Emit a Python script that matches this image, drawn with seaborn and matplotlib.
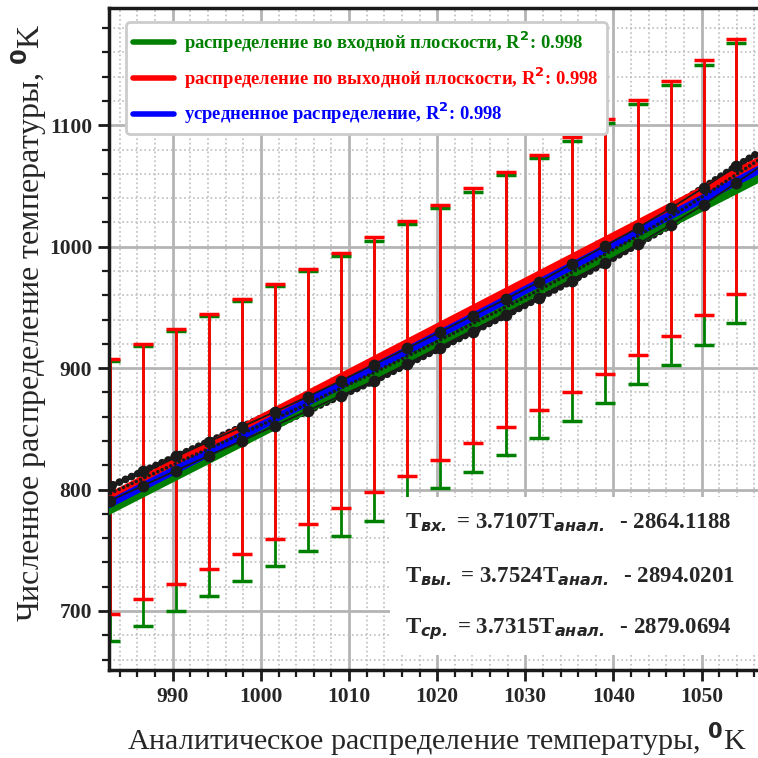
import seaborn as sns
import matplotlib.pyplot as plt
import matplotlib.patches as mpatches
from matplotlib.lines import Line2D
from matplotlib.ticker import MultipleLocator

# analytic temperature at the 20 sections, K
t_anal = [982.90, 986.64, 990.38, 994.12, 997.86, 1001.60, 1005.34, 1009.08, 1012.82, 1016.56,
          1020.30, 1024.04, 1027.78, 1031.52, 1035.26, 1039.00, 1042.74, 1046.48, 1050.22, 1053.96]
# numerical mean temperature, inlet plane
t_in = [790.8, 803.3, 815.6, 828.0, 840.3, 852.6, 865.0, 877.4, 889.5, 903.0,
        916.5, 930.0, 943.7, 957.6, 971.8, 986.6, 1002.0, 1017.9, 1034.6, 1052.8]
# numerical mean temperature, outlet plane
t_out = [802.6, 815.0, 827.3, 839.5, 851.7, 864.0, 876.6, 889.6, 902.8, 916.2,
         929.6, 943.3, 956.8, 970.8, 985.6, 1000.5, 1015.4, 1031.5, 1048.6, 1066.3]
# averaged distribution
t_avg = [796.7, 809.2, 821.5, 833.8, 846.0, 858.3, 870.8, 883.5, 896.2, 909.6,
         923.1, 936.7, 950.3, 964.2, 978.7, 993.6, 1008.7, 1024.7, 1041.6, 1059.6]
# spread (min / max) around the mean
err_in = 115.3
err_out = 105.0

# the dotted data curves run on past the first and last section
edge_x = [980.5, 1057.5]
edge_in = [783.0, 1070.0]
edge_out = [794.6, 1082.0]
edge_avg = [788.8, 1076.0]

# linear fits (from the equations on the chart)
fit_names = ['вх.', 'вы.', 'ср.']
fit_slope = [3.7107, 3.7524, 3.7315]
fit_icpt = [-2864.1188, -2894.0201, -2879.0694]
fit_colors = ['green', 'red', 'blue']
fit_labels = ['распределение во входной плоскости, R$^\\mathbf{2}$: 0.998',
              'распределение по выходной плоскости, R$^\\mathbf{2}$: 0.998',
              'усредненное распределение, R$^\\mathbf{2}$: 0.998']
fit_x = [975.0, 1065.0]

sns.set_theme(style='white')
plt.rcParams['font.family'] = ['Liberation Serif', 'DejaVu Sans']
plt.rcParams['mathtext.fontset'] = 'dejavusans'

fig = plt.figure(figsize=(7.58, 7.58), dpi=100)
ax = fig.add_axes([0.1438, 0.1161, 0.8562, 0.8734])

# error bars (min..max in each plane)
ax.errorbar(t_anal, t_in, yerr=err_in, fmt='none', ecolor='green', elinewidth=2,
            capsize=7.5, capthick=2.5, zorder=2)
ax.errorbar(t_anal, t_out, yerr=err_out, fmt='none', ecolor='red', elinewidth=2,
            capsize=7.5, capthick=2.5, zorder=2.1)

x_full = [edge_x[0]] + t_anal + [edge_x[1]]
in_full = [edge_in[0]] + t_in + [edge_in[1]]
out_full = [edge_out[0]] + t_out + [edge_out[1]]
avg_full = [edge_avg[0]] + t_avg + [edge_avg[1]]

# numerical data as thick dotted black lines
for ys in [in_full, out_full]:
    ax.plot(x_full, ys, color='k', lw=5.6, ls=(0, (0.01, 0.85)),
            dash_capstyle='round', zorder=3)

# fit lines
for a, b, c in zip(fit_slope, fit_icpt, fit_colors):
    sns.lineplot(x=fit_x, y=[a * fit_x[0] + b, a * fit_x[1] + b], color=c, lw=5.8,
                 ax=ax, zorder=4)

ax.plot(x_full, avg_full, color='k', lw=2.6, ls=(0, (0.01, 1.3)),
        dash_capstyle='round', zorder=5)
for xs, ys in [(x_full, in_full), (x_full, out_full)]:
    ax.plot(xs, ys, color='k', lw=1.3, zorder=5)
for ys in [t_in, t_out]:
    sns.scatterplot(x=t_anal, y=ys, color='k', s=72, linewidth=0, ax=ax, zorder=6)

ax.set_xlim(982.77, 1056.4)
ax.set_ylim(651.4, 1196.6)
ax.xaxis.set_major_locator(MultipleLocator(10))
ax.xaxis.set_minor_locator(MultipleLocator(2))
ax.yaxis.set_major_locator(MultipleLocator(100))
ax.yaxis.set_minor_locator(MultipleLocator(20))
ax.set_axisbelow(True)
ax.grid(which='major', color='#b4b4b4', lw=2)
ax.grid(which='minor', color='#bdbdbd', ls=':', lw=1.2)
ax.tick_params(which='both', bottom=True, left=True, top=False, right=False)
ax.tick_params(which='major', direction='out', length=8, width=2, labelsize=15.5,
               color='k', pad=4)
ax.tick_params(which='minor', direction='out', length=5, width=1.6, color='k')
for lab in ax.get_xticklabels() + ax.get_yticklabels():
    lab.set_fontweight('bold')
for s in ['left', 'bottom', 'top']:
    ax.spines[s].set_color('k')
    ax.spines[s].set_linewidth(2.5)
ax.spines['right'].set_visible(False)

ax.set_xlabel('Аналитическое распределение температуры, $^\\mathbf{0}$K', fontsize=21.6)
ax.set_ylabel('Численное распределение температуры, $^\\mathbf{0}$K', fontsize=23)
ax.xaxis.set_label_coords(0.505, -0.077)
ax.yaxis.set_label_coords(-0.092, 0.525)

handles = [Line2D([0], [0], color=c, lw=4) for c in fit_colors]
leg = ax.legend(handles, fit_labels, loc='upper left', bbox_to_anchor=(0.026, 0.979),
                borderaxespad=0, handlelength=2.2, handletextpad=0.55,
                labelspacing=0.55, borderpad=0.4, frameon=True, fancybox=True,
                framealpha=1, prop={'weight': 'bold', 'size': 13.4})
leg.get_frame().set_edgecolor('#cccccc')
leg.get_frame().set_linewidth(2)
for t, c in zip(leg.get_texts(), fit_colors):
    t.set_color(c)
leg.set_zorder(10)

# equations box
ax.add_patch(mpatches.Rectangle((0.433, 0.023), 0.567, 0.238, transform=ax.transAxes,
                                facecolor='white', edgecolor='none', zorder=8))
eq_y = [0.222, 0.141, 0.062]
for n, a, b, y in zip(fit_names, fit_slope, fit_icpt, eq_y):
    ax.text(0.456, y, 'T$_{\\mathbfit{%s}}$ = %.4fT$_{\\mathbfit{анал.}}$  - %.4f' % (n, a, -b),
            transform=ax.transAxes, fontsize=16.5, fontweight='bold', va='center',
            ha='left', zorder=9)

fig.savefig('out.png', dpi=100)
